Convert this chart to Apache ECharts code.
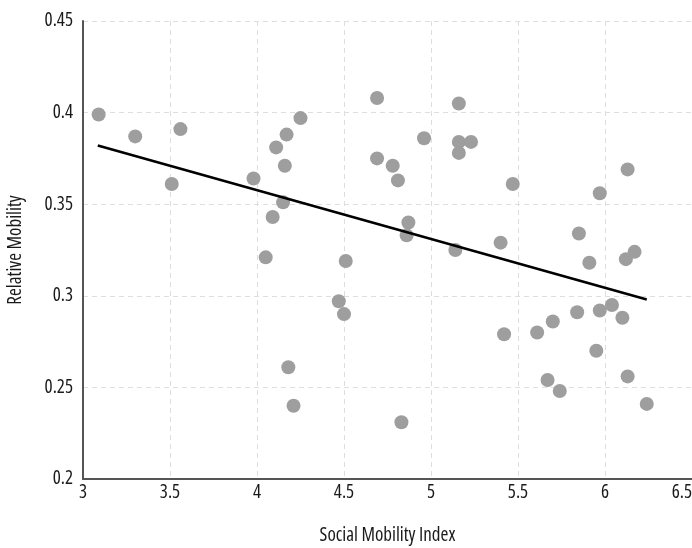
<!DOCTYPE html>
<html>
<head>
<meta charset="utf-8">
<script src="https://cdn.jsdelivr.net/npm/echarts@6/dist/echarts.min.js"></script>
<style>
html,body{margin:0;padding:0;background:#fff;}
#chart{width:692px;height:548px;}
</style>
</head>
<body>
<div id="chart"></div>
<script>
const socialMobilityIndex = [3.09,3.30,3.56,3.51,3.98,4.25,4.17,4.11,4.16,4.15,4.09,4.05,4.51,
  4.69,5.16,4.96,5.16,5.23,5.16,4.69,4.78,4.81,5.47,6.13,5.97,4.87,4.86,5.40,5.14,5.85,5.91,6.12,6.17,
  4.47,4.50,4.18,4.21,4.83,5.42,5.61,5.70,5.84,5.97,6.04,6.10,5.95,5.67,5.74,6.13,6.24];
const relativeMobility = [0.399,0.387,0.391,0.361,0.364,0.397,0.388,0.381,0.371,0.351,0.343,0.321,0.319,
  0.408,0.405,0.386,0.384,0.384,0.378,0.375,0.371,0.363,0.361,0.369,0.356,0.340,0.333,0.329,0.325,0.334,0.318,0.320,0.324,
  0.297,0.290,0.261,0.240,0.231,0.279,0.280,0.286,0.291,0.292,0.295,0.288,0.270,0.254,0.248,0.256,0.241];
const trendX = [3.085, 6.24];
const trendY = [0.382, 0.298];
const xTicks = [3, 3.5, 4, 4.5, 5, 5.5, 6, 6.5];
const yTicks = [0.2, 0.25, 0.3, 0.35, 0.4, 0.45];

const FONT = '"Open Sans","Roboto Condensed",sans-serif';
const STRETCH = '500 condensed';
const chart = echarts.init(document.getElementById('chart'));
chart.setOption({
  animation: false,
  grid: {left: 83, right: 0, top: 21, bottom: 69, outerBoundsMode: 'none', containLabel: false},
  xAxis: {
    type: 'value', min: xTicks[0], max: xTicks[xTicks.length-1], interval: 0.5,
    name: 'Social Mobility Index', nameLocation: 'middle', nameGap: 47,
    nameTextStyle: {fontFamily: FONT, fontWeight: STRETCH, fontSize: 19, color: '#1a1a1a'},
    axisLine: {show: true, lineStyle: {color: '#555', width: 2}},
    axisTick: {show: false},
    axisLabel: {fontFamily: FONT, fontWeight: STRETCH, fontSize: 19, color: '#1a1a1a', margin: 4,
      alignMaxLabel: 'right'},
    splitLine: {show: true, lineStyle: {color: '#dedede', type: [5, 4], width: 1}}
  },
  yAxis: {
    type: 'value', min: yTicks[0], max: yTicks[yTicks.length-1], interval: 0.05,
    name: 'Relative Mobility', nameLocation: 'middle', nameGap: 58,
    nameTextStyle: {fontFamily: FONT, fontWeight: STRETCH, fontSize: 19, color: '#1a1a1a'},
    axisLine: {show: true, lineStyle: {color: '#555', width: 2}},
    axisTick: {show: false},
    axisLabel: {fontFamily: FONT, fontWeight: STRETCH, fontSize: 19, color: '#1a1a1a', margin: 10,
      formatter: v => String(Math.round(v*100)/100)},
    splitLine: {show: true, lineStyle: {color: '#dedede', type: [5, 4], width: 1}}
  },
  series: [
    {
      type: 'scatter', symbolSize: 14,
      itemStyle: {color: '#9e9e9e', opacity: 1},
      data: socialMobilityIndex.map((x, i) => [x, relativeMobility[i]])
    },
    {
      type: 'line', symbol: 'none', silent: true,
      lineStyle: {color: '#000', width: 2.5},
      data: trendX.map((x, i) => [x, trendY[i]])
    }
  ]
});
</script>
</body>
</html>
